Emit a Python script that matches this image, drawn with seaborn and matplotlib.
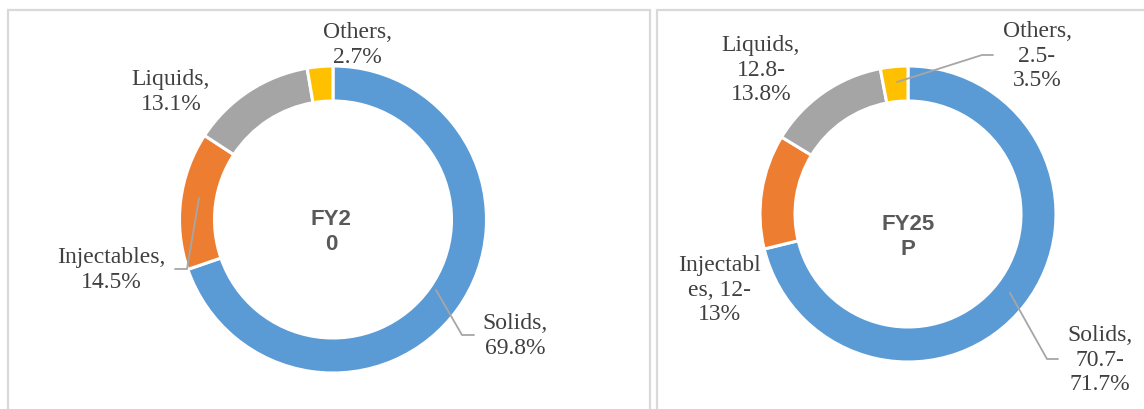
import numpy as np
import matplotlib
matplotlib.use("Agg")
import matplotlib.pyplot as plt
import matplotlib.patches as patches
import seaborn as sns

sns.set_theme(style="white")

# data
segments = ["Solids", "Injectables", "Liquids", "Others"]
fy20_share = [69.8, 14.5, 13.1, 2.7]
fy25_low = [70.7, 12.0, 12.8, 2.5]
fy25_high = [71.7, 13.0, 13.8, 3.5]
fy25_share = [(a + b) / 2 for a, b in zip(fy25_low, fy25_high)]

fy20_labels = ["Solids,\n69.8%", "Injectables,\n14.5%", "Liquids,\n13.1%", "Others,\n2.7%"]
fy25_labels = ["Solids,\n70.7-\n71.7%", "Injectabl\nes, 12-\n13%", "Liquids,\n12.8-\n13.8%", "Others,\n2.5-\n3.5%"]
titles = ["FY2\n0", "FY25\nP"]

colours = sns.color_palette(["#5B9BD5", "#ED7D31", "#A5A5A5", "#FFC000"])

W, H = 1144, 409
fig = plt.figure(figsize=(W / 100, H / 100), dpi=100)
ax = fig.add_axes([0, 0, 1, 1])

def Y(py):
    # pixel row -> data y
    return H - py

# panel frames
for x0, x1 in [(8, 650), (657, 1160)]:
    ax.add_patch(patches.Rectangle((x0, -20), x1 - x0, Y(10) + 20, fill=False,
                                   edgecolor="#D9D9D9", lw=1.6, zorder=0))

serif = dict(family="Liberation Serif", fontsize=17, color="#404040", ha="center", va="center",
             linespacing=1.2)
bold = dict(family="Liberation Sans", fontsize=16, color="#595959", ha="center", va="center",
            fontweight="bold", linespacing=1.2)

panels = [
    dict(vals=fy20_share, labels=fy20_labels, title=titles[0], cx=333, cy=219.5, r=153.5, w=35,
         tpos=(331, 232),
         lpos=[(515, 336), (111, 270), (171, 92), (357, 45)],
         leaders={0: [(436, 290), (462, 335), (474, 335)],
                  1: [(199, 198), (187, 269), (175, 269)]}),
    dict(vals=fy25_share, labels=fy25_labels, title=titles[1], cx=908, cy=214, r=148, w=35,
         tpos=(908, 237),
         lpos=[(1100, 360), (719, 290), (761, 70), (1037, 56)],
         leaders={0: [(1010, 293), (1047, 359), (1058, 359)],
                  3: [(897, 82), (982, 55), (993, 55)]}),
]

for p in panels:
    ax.pie(p["vals"], colors=colours, startangle=90, counterclock=False,
           center=(p["cx"], Y(p["cy"])), radius=p["r"], frame=True,
           wedgeprops=dict(width=p["w"], edgecolor="white", linewidth=2.2))
    ax.text(p["tpos"][0], Y(p["tpos"][1]), p["title"], **bold)
    for lab, (lx, ly) in zip(p["labels"], p["lpos"]):
        ax.text(lx, Y(ly), lab, **serif)
    for pts in p["leaders"].values():
        xs = [q[0] for q in pts]
        ys = [Y(q[1]) for q in pts]
        ax.plot(xs, ys, color="#A6A6A6", lw=1.3, zorder=5)

ax.set_xlim(0, W)
ax.set_ylim(0, H)
ax.set_aspect("equal")
ax.axis("off")

fig.savefig("out.png", dpi=100, facecolor="white")
